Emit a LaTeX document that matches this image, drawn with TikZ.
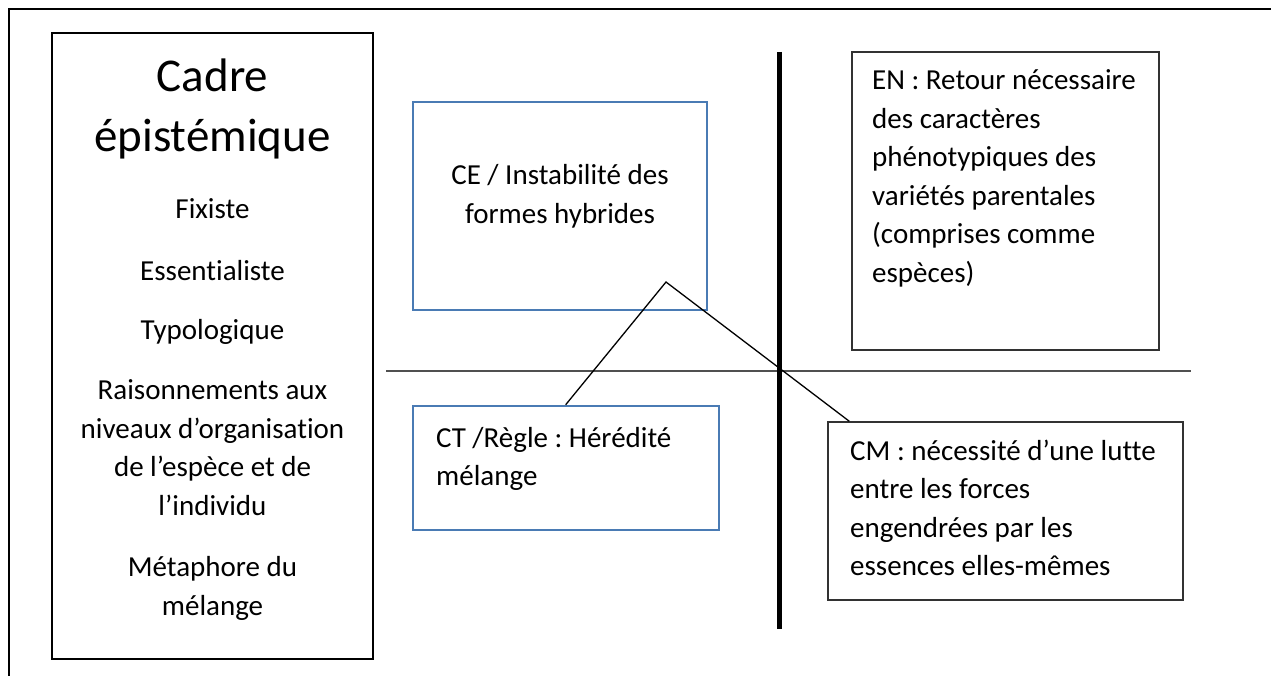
\documentclass[tikz,border=0pt]{standalone}
\usepackage{fontspec}
\setmainfont{Carlito}[Ligatures=NoCommon]
\frenchspacing
\usetikzlibrary{calc}
\definecolor{wordblue}{RGB}{74,123,180}
\definecolor{thingray}{RGB}{50,50,50}
\definecolor{axisgray}{RGB}{80,80,80}
\tikzset{
  frameline/.style={line width=2.6pt, black},
  cadrebox/.style={draw=black, line width=2.8pt, inner sep=0pt},
  bluebox/.style={draw=wordblue, line width=2.6pt, inner sep=0pt},
  plainbox/.style={draw=thingray, line width=1.5pt, inner sep=0pt},
  axisv/.style={line width=5pt, black},
  axish/.style={line width=2pt, axisgray},
  conn/.style={line width=1.3pt, black},
  bodytxt/.style={font=\fontsize{29}{35}\selectfont, inner sep=0pt, text=black},
  titletxt/.style={font=\fontsize{47}{56}\selectfont, inner sep=0pt, text=black, anchor=base}
}
\begin{document}
\begin{tikzpicture}[x=1pt,y=-1pt]
\useasboundingbox (0,0) rectangle (1271,676);
\fill[white] (0,0) rectangle (1271,676);

% outer frame (top and left edges)
\coordinate (fbl) at (9,676);
\coordinate (ftl) at (9,9);
\coordinate (ftr) at (1271,9);
\draw[frameline] (fbl) -- (ftl) -- (ftr);

% boxes
\node[cadrebox, minimum width=321pt, minimum height=626pt] (cadre) at (212.5,346) {};
\node[bluebox, minimum width=294pt, minimum height=208pt] (ce) at (560,206) {};
\node[bluebox, minimum width=306pt, minimum height=124pt] (ct) at (566,468) {};
\node[plainbox, minimum width=307pt, minimum height=298pt] (en) at (1005.5,201) {};
\node[plainbox, minimum width=355pt, minimum height=178pt] (cm) at (1005.5,511) {};

% axes
\coordinate (hl) at (386,371);
\coordinate (hr) at (1191,371);
\coordinate (vt) at (779,52);
\coordinate (vb) at (779,629);
\draw[axish] (hl) -- (hr);
\draw[axisv] (vt) -- (vb);

% connectors
\coordinate (apex) at (666,282);
\draw[conn] ($(ct.north west)+(154,0)$) -- (apex) -- ($(cm.north west)+(22,0)$);

% left box text
\node[titletxt] (t1) at (212.5,92) {Cadre};
\node[titletxt] (t2) at (212.5,152) {épistémique};
\node[bodytxt, anchor=base] (c1) at (212.5,219) {Fixiste};
\node[bodytxt, anchor=base] (c2) at (212.5,280) {Essentialiste};
\node[bodytxt, anchor=base] (c3) at (212.5,339.5) {Typologique};
\node[bodytxt, anchor=base] (c4) at (212.5,399.5) {Raisonnements aux};
\node[bodytxt, anchor=base] (c5) at (212.5,438) {niveaux d’organisation};
\node[bodytxt, anchor=base] (c6) at (212.5,476.5) {de l’espèce et de};
\node[bodytxt, anchor=base] (c7) at (212.5,515) {l’individu};
\node[bodytxt, anchor=base] (c8) at (212.5,576.5) {Métaphore du};
\node[bodytxt, anchor=base] (c9) at (212.5,615) {mélange};

% CE text
\node[bodytxt, anchor=base] (ce1) at (560,185) {CE / Instabilité des};
\node[bodytxt, anchor=base] (ce2) at (560,223.5) {formes hybrides};

% CT text
\node[bodytxt, anchor=base west] (ct1) at (436,447) {CT /Règle : Hérédité};
\node[bodytxt, anchor=base west] (ct2) at (436,485.5) {mélange};

% EN text
\node[bodytxt, anchor=base west] (en1) at (872,90) {EN : Retour nécessaire};
\node[bodytxt, anchor=base west] (en2) at (872,128.5) {des caractères};
\node[bodytxt, anchor=base west] (en3) at (872,167) {phénotypiques des};
\node[bodytxt, anchor=base west] (en4) at (872,205.5) {variétés parentales};
\node[bodytxt, anchor=base west] (en5) at (872,244) {(comprises comme};
\node[bodytxt, anchor=base west] (en6) at (872,282.5) {espèces)};

% CM text
\node[bodytxt, anchor=base west] (cm1) at (850,460) {CM : nécessité d’une lutte};
\node[bodytxt, anchor=base west] (cm2) at (850,498.5) {entre les forces};
\node[bodytxt, anchor=base west] (cm3) at (850,537) {engendrées par les};
\node[bodytxt, anchor=base west] (cm4) at (850,575.5) {essences elles-mêmes};
\end{tikzpicture}
\end{document}
